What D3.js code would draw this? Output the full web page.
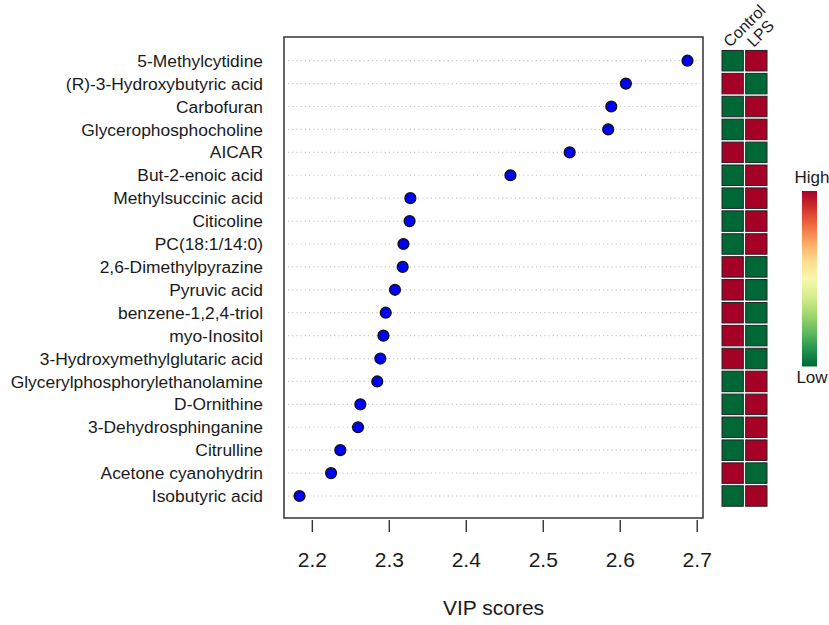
<!DOCTYPE html>
<html>
<head>
<meta charset="utf-8">
<script src="https://cdn.jsdelivr.net/npm/d3@7"></script>
<style>
  body { margin: 0; background: #fff; }
  text { font-family: "Liberation Sans", Arial, sans-serif; fill: #1a1a1a; }
</style>
</head>
<body>
<svg id="chart" width="829" height="625"></svg>
<script>
// metabolites, top to bottom
const names = [
  "5-Methylcytidine", "(R)-3-Hydroxybutyric acid", "Carbofuran", "Glycerophosphocholine",
  "AICAR", "But-2-enoic acid", "Methylsuccinic acid", "Citicoline", "PC(18:1/14:0)",
  "2,6-Dimethylpyrazine", "Pyruvic acid", "benzene-1,2,4-triol", "myo-Inositol",
  "3-Hydroxymethylglutaric acid", "Glycerylphosphorylethanolamine", "D-Ornithine",
  "3-Dehydrosphinganine", "Citrulline", "Acetone cyanohydrin", "Isobutyric acid"
];
const vip = [
  2.688, 2.608, 2.589, 2.585, 2.535, 2.458, 2.328, 2.327, 2.319, 2.318,
  2.308, 2.296, 2.293, 2.289, 2.285, 2.263, 2.260, 2.237, 2.225, 2.184
];
const groups = ["Control", "LPS"];
// 1 = high, 0 = low
const control = [0, 1, 0, 0, 1, 0, 0, 0, 0, 1, 1, 1, 1, 1, 0, 0, 0, 0, 1, 0];
const lps     = [1, 0, 1, 1, 0, 1, 1, 1, 1, 0, 0, 0, 0, 0, 1, 1, 1, 1, 0, 1];
const xTicks = [2.2, 2.3, 2.4, 2.5, 2.6, 2.7];

const svg = d3.select("#chart");
const box = { left: 284, right: 703, top: 37, bottom: 518 };

// R style 4% padding on range
const lo = d3.min(vip), hi = d3.max(vip), pad = (hi - lo) * 0.04;
const x = d3.scaleLinear().domain([lo - pad, hi + pad]).range([box.left, box.right]);
const y = d3.scalePoint().domain(names).range([60.7, 496]);

// dotted guides
svg.append("g").selectAll("line")
  .data(names).enter().append("line")
  .attr("x1", box.left + 4).attr("x2", box.right - 3)
  .attr("y1", d => y(d)).attr("y2", d => y(d))
  .attr("stroke", "#c8c8c8").attr("stroke-width", 1.2)
  .attr("stroke-dasharray", "1.2,3");

svg.append("rect")
  .attr("x", box.left).attr("y", box.top)
  .attr("width", box.right - box.left).attr("height", box.bottom - box.top)
  .attr("fill", "none").attr("stroke", "#333").attr("stroke-width", 1.5);

// labels
svg.append("g").selectAll("text")
  .data(names).enter().append("text")
  .attr("x", 263).attr("y", d => y(d)).attr("dy", "0.35em")
  .attr("text-anchor", "end").style("font-size", "17.4px")
  .text(d => d);

// points
svg.append("g").selectAll("circle")
  .data(names).enter().append("circle")
  .attr("cx", (d, i) => x(vip[i])).attr("cy", d => y(d))
  .attr("r", 5.4).attr("fill", "#0000ff")
  .attr("stroke", "#111").attr("stroke-width", 1.4);

// x axis
const axis = d3.axisBottom(x).tickValues(xTicks).tickSize(12).tickPadding(20)
  .tickFormat(d3.format(".1f"));
const ax = svg.append("g").attr("transform", "translate(0,520)").call(axis);
ax.select(".domain").remove();
ax.selectAll(".tick line").attr("stroke", "#333").attr("stroke-width", 1.4);
ax.selectAll(".tick text").style("font-size", "21px").attr("fill", "#1a1a1a")
  .style("font-family", "'Liberation Sans', Arial, sans-serif");

svg.append("text")
  .attr("x", (box.left + box.right) / 2).attr("y", 615)
  .attr("text-anchor", "middle").style("font-size", "21px")
  .text("VIP scores");

// heatmap of group levels
const color = t => d3.interpolateRdYlGn(1 - t);
const gx = d3.scaleBand().domain(groups).range([722, 767]).paddingInner(0.1);
const cellH = 20.5;
const cols = [control, lps];
groups.forEach((g, gi) => {
  svg.append("g").selectAll("rect")
    .data(names).enter().append("rect")
    .attr("x", gx(g)).attr("y", d => y(d) - cellH / 2)
    .attr("width", gx.bandwidth()).attr("height", cellH)
    .attr("fill", (d, i) => color(cols[gi][i]))
    .attr("stroke", "#222").attr("stroke-width", 1);
  svg.append("text")
    .attr("transform", `translate(${gx(g) + 8},48) rotate(-45)`)
    .style("font-size", "16px")
    .text(g);
});

// colour key
const defs = svg.append("defs");
const grad = defs.append("linearGradient").attr("id", "key")
  .attr("x1", 0).attr("y1", 1).attr("x2", 0).attr("y2", 0);
d3.range(0, 1.01, 0.1).forEach(t => {
  grad.append("stop").attr("offset", t).attr("stop-color", color(t));
});
const key = d3.scaleLinear().domain([0, 1]).range([366.5, 191]);
svg.append("rect")
  .attr("x", 802).attr("y", key(1)).attr("width", 15).attr("height", key(0) - key(1))
  .attr("fill", "url(#key)");
svg.append("text").attr("x", 812).attr("y", 183).attr("text-anchor", "middle")
  .style("font-size", "17px").text("High");
svg.append("text").attr("x", 812).attr("y", 383).attr("text-anchor", "middle")
  .style("font-size", "17px").text("Low");
</script>
</body>
</html>
